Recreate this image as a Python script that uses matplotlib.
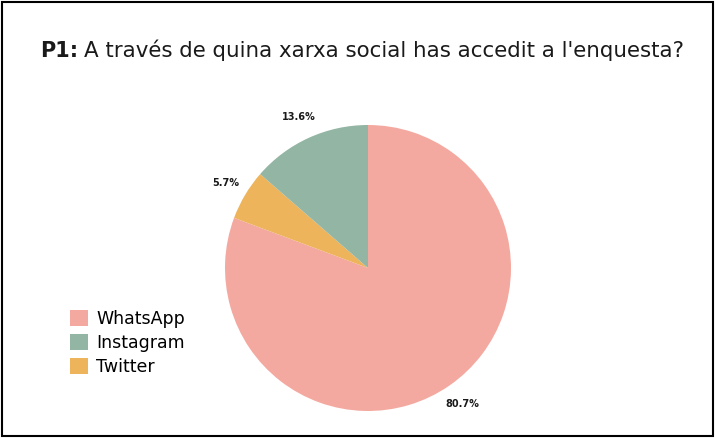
import matplotlib.pyplot as plt
from matplotlib.patches import Rectangle, Patch

# data (pie order, clockwise from top)
labels = ['WhatsApp', 'Twitter', 'Instagram']
shares = [80.7, 5.7, 13.6]
colors = ['#F4A9A0', '#EDB45C', '#93B5A4']
legend_order = ['WhatsApp', 'Instagram', 'Twitter']

fig = plt.figure(figsize=(7.15, 4.38), dpi=100)
fig.patches.append(Rectangle((0.003, 0.005), 0.994, 0.99, transform=fig.transFigure,
                             fill=False, edgecolor='black', linewidth=1.5))

t1 = fig.text(40 / 715, 0.87, 'P1:', fontsize=15, fontweight='bold', family='DejaVu Sans',
              color='#1a1a1a', va='baseline')
fig.canvas.draw()
x1 = t1.get_window_extent().x1 / 715
fig.text(x1 + 6 / 715, 0.87, "A través de quina xarxa social has accedit a l'enquesta?",
         fontsize=15.4, family='DejaVu Sans', color='#1a1a1a', va='baseline')

ax = fig.add_axes([225 / 715, 27 / 438, 286 / 715, 286 / 438])
wedges, texts = ax.pie(shares, colors=colors, startangle=90, counterclock=False,
                       labels=[f'{v:.1f}%' for v in shares], labeldistance=1.16,
                       wedgeprops=dict(linewidth=0),
                       textprops=dict(fontsize=7, fontweight='bold', family='DejaVu Sans',
                                      color='#1a1a1a'))
for t in texts:
    t.set_ha('center')
    t.set_va('center')
ax.set_xlim(-1, 1)
ax.set_ylim(-1, 1)

handles = [Patch(facecolor=colors[labels.index(n)], edgecolor='none') for n in legend_order]
fig.legend(handles, legend_order, loc='upper left', bbox_to_anchor=(0.086, 0.312),
           frameon=False, handlelength=1.0, handleheight=1.0,
           handletextpad=0.5, labelspacing=0.35, borderpad=0,
           prop=dict(family='DejaVu Sans', size=12.5))

fig.savefig('out.png', dpi=100)
